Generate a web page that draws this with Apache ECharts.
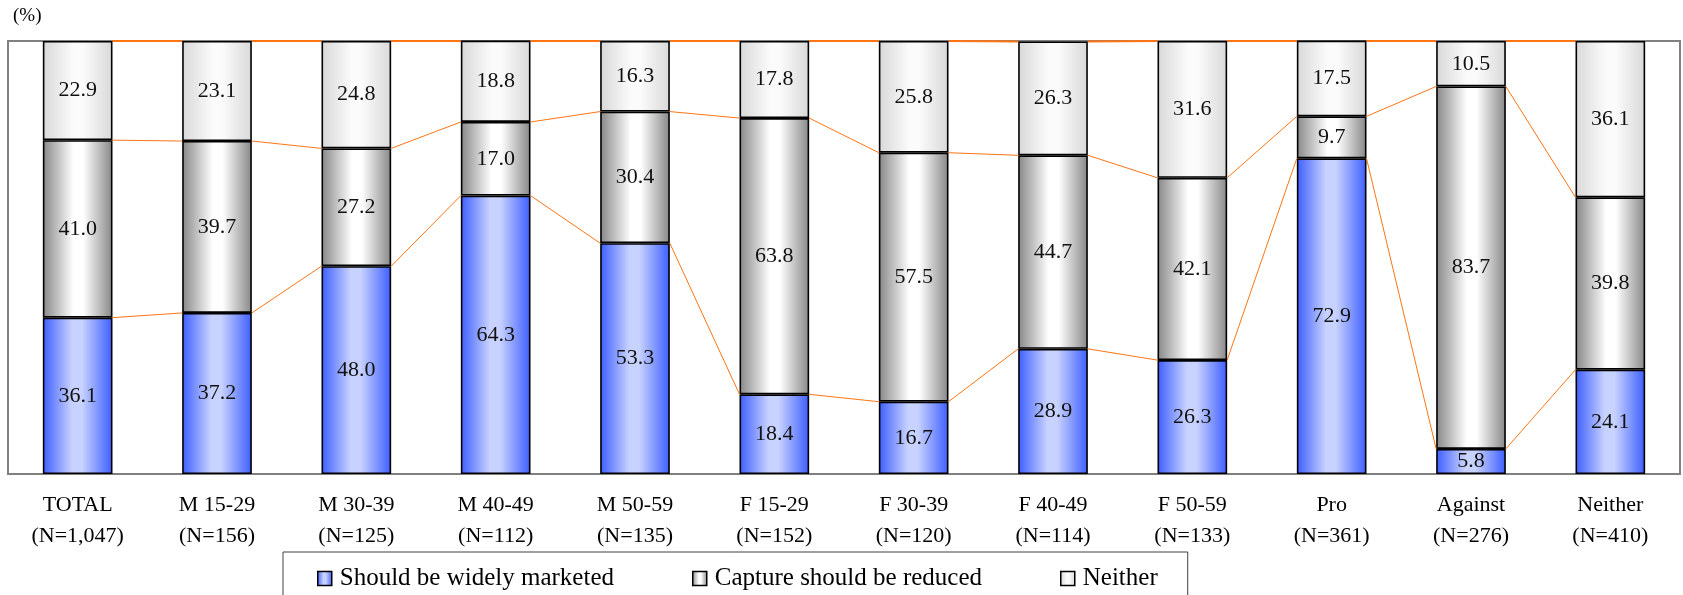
<!DOCTYPE html>
<html>
<head>
<meta charset="utf-8">
<script src="https://cdn.jsdelivr.net/npm/echarts@6/dist/echarts.min.js"></script>
<style>
html,body{margin:0;padding:0;background:#fff;}
#chart{width:1683px;height:595px;}
</style>
</head>
<body>
<div id="chart"></div>
<script>
const categories = ['TOTAL\n(N=1,047)', 'M 15-29\n(N=156)', 'M 30-39\n(N=125)', 'M 40-49\n(N=112)', 'M 50-59\n(N=135)', 'F 15-29\n(N=152)', 'F 30-39\n(N=120)', 'F 40-49\n(N=114)', 'F 50-59\n(N=133)', 'Pro\n(N=361)', 'Against\n(N=276)', 'Neither\n(N=410)'];
const seriesNames = ['Should be widely marketed', 'Capture should be reduced', 'Neither'];
const marketed = [36.1, 37.2, 48.0, 64.3, 53.3, 18.4, 16.7, 28.9, 26.3, 72.9, 5.8, 24.1];
const reduced  = [41.0, 39.7, 27.2, 17.0, 30.4, 63.8, 57.5, 44.7, 42.1, 9.7, 83.7, 39.8];
const neither  = [22.9, 23.1, 24.8, 18.8, 16.3, 17.8, 25.8, 26.3, 31.6, 17.5, 10.5, 36.1];

const FONT = '"Liberation Serif", "Times New Roman", serif';

function grad(edge, mid, midPos) {
  return new echarts.graphic.LinearGradient(0, 0, 1, 0, [
    {offset: 0, color: edge},
    {offset: midPos - 0.08, color: mid},
    {offset: midPos + 0.06, color: mid},
    {offset: 1, color: edge}
  ]);
}
const fills = [
  grad('#3d5eff', '#c8d2ff', 0.5),
  grad('#878787', '#ffffff', 0.52),
  grad('#d8d8d8', '#fbfbfb', 0.52)
];

const cum1 = marketed.map(v => v);
const cum2 = marketed.map((v, i) => v + reduced[i]);
const cum3 = marketed.map((v, i) => v + reduced[i] + neither[i]);
const lineData = [];
for (let i = 0; i < categories.length - 1; i++) {
  lineData.push([i, cum1[i], cum1[i + 1], cum2[i], cum2[i + 1], Math.min(cum3[i], 100), Math.min(cum3[i + 1], 100)]);
}

const barSeries = [marketed, reduced, neither].map((arr, k) => ({
  name: seriesNames[k],
  type: 'bar',
  stack: 'all',
  barCategoryGap: '50%',
  data: arr,
  itemStyle: {color: fills[k], borderColor: '#000', borderWidth: 1.6},
  label: {
    show: true, position: 'inside', color: '#111',
    fontFamily: FONT, fontSize: 22,
    formatter: p => p.value.toFixed(1)
  },
  emphasis: {disabled: true}
}));

const chart = echarts.init(document.getElementById('chart'), null, {renderer: 'canvas'});
chart.setOption({
  animation: false,
  backgroundColor: '#fff',
  grid: {left: 8, right: 3, top: 41, bottom: 121, show: true, borderColor: '#808080', borderWidth: 2, backgroundColor: 'transparent'},
  xAxis: {
    type: 'category', data: categories,
    axisLine: {show: true, lineStyle: {color: '#808080', width: 2}},
    axisTick: {show: false},
    axisLabel: {color: '#000', fontFamily: FONT, fontSize: 22, lineHeight: 31, margin: 16, interval: 0}
  },
  yAxis: {
    type: 'value', min: 0, max: 100, interval: 10,
    axisLabel: {show: false}, axisLine: {show: false}, axisTick: {show: false}, splitLine: {show: false}
  },
  legend: {
    data: seriesNames,
    left: 283, top: 552,
    padding: [14, 30, 24, 34],
    borderColor: '#404040', borderWidth: 1,
    itemWidth: 14, itemHeight: 14, itemGap: 78,
    icon: 'rect',
    itemStyle: {borderColor: '#000', borderWidth: 1.5},
    textStyle: {fontFamily: FONT, fontSize: 25, color: '#000', padding: [0, 0, 0, 3]}
  },
  graphic: [{
    type: 'text', left: 13, top: 7,
    style: {text: '(%)', font: '19px ' + FONT, fill: '#000'}
  }],
  series: barSeries.concat([{
    type: 'custom',
    name: 'serieslines',
    data: lineData,
    encode: {x: 0, y: [1, 2, 3, 4, 5, 6]},
    z: 5,
    silent: true,
    clip: false,
    renderItem: function (params, api) {
      const i = api.value(0);
      const bw = api.size([1, 0])[0] * 0.5;
      const children = [];
      for (let k = 0; k < 3; k++) {
        const a = api.coord([i, api.value(1 + 2 * k)]);
        const b = api.coord([i + 1, api.value(2 + 2 * k)]);
        children.push({
          type: 'line',
          shape: {x1: a[0] + bw / 2, y1: a[1], x2: b[0] - bw / 2, y2: b[1]},
          style: {stroke: '#ff7415', lineWidth: k === 2 ? 2 : 1}
        });
      }
      return {type: 'group', children: children};
    }
  }])
});
</script>
</body>
</html>
